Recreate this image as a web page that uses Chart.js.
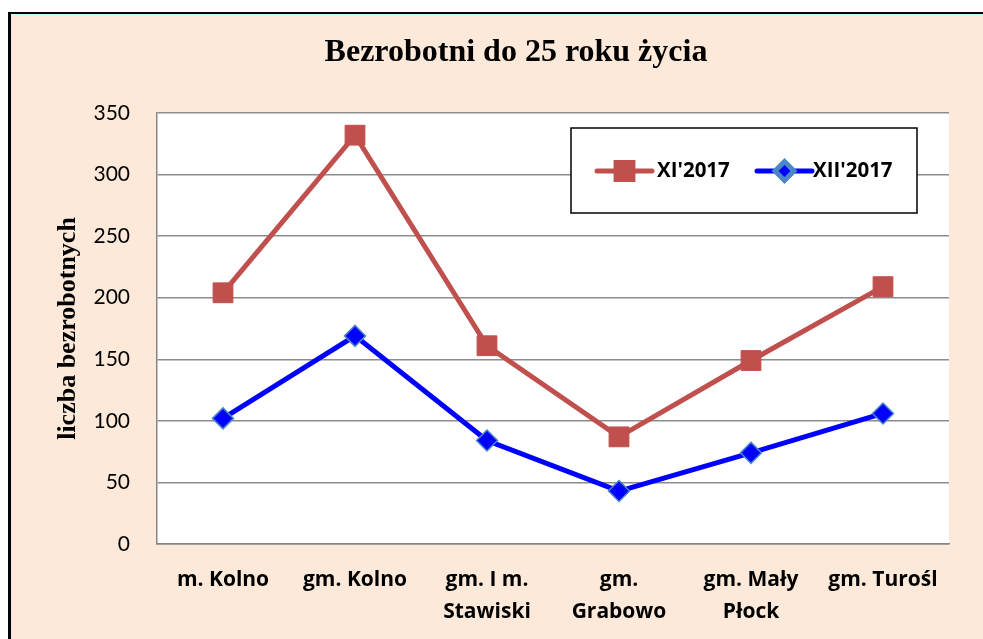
<!DOCTYPE html>
<html lang="pl">
<head>
    <meta charset="UTF-8">
    <title>Bezrobotni do 25 roku życia</title>
    <script src="https://cdn.jsdelivr.net/npm/chart.js"></script>
    <style>
        html, body { margin: 0; padding: 0; background: #fff; overflow: hidden; }
        #frame {
            position: absolute; left: 8px; top: 12px;
            width: 1010px; height: 640px;
            border-left: 3px solid #000; border-top: 2px solid #000;
            box-shadow: inset 1px 1px 0 #bff;
            background: #FDE9D9;
        }
        canvas { display: block; }
    </style>
</head>
<body>
    <div id="frame"><canvas id="chartCanvas" width="1010" height="625"></canvas></div>

    <script>
        const chartTitle = 'Bezrobotni do 25 roku życia';
        const yAxisTitle = 'liczba bezrobotnych';
        const categories = ['m. Kolno', 'gm. Kolno', ['gm. I m.', 'Stawiski'], ['gm.', 'Grabowo'], ['gm. Mały', 'Płock'], 'gm. Turośl'];
        const seriesNames = ["XI'2017", "XII'2017"];
        const xi2017 = [204, 332, 161, 87, 149, 209];
        const xii2017 = [102, 169, 84, 43, 74, 106];
        const yMin = 0, yMax = 350, yStep = 50;

        const tickFont = 'Lato, "Open Sans", sans-serif';
        const boldFont = '"Open Sans", Lato, sans-serif';
        const serifFont = '"Liberation Serif", "DejaVu Serif", serif';

        // white plot area
        const plotBg = {
            id: 'plotBg',
            beforeDraw(chart) {
                const { ctx, chartArea: a } = chart;
                ctx.save();
                ctx.fillStyle = '#fff';
                ctx.fillRect(a.left, a.top, a.right - a.left, a.bottom - a.top);
                ctx.restore();
            }
        };

        // title centred on the whole (cropped) chart frame
        const frameTitle = {
            id: 'frameTitle',
            afterDraw(chart) {
                const ctx = chart.ctx;
                ctx.save();
                ctx.fillStyle = '#000';
                ctx.font = 'bold 32px ' + serifFont;
                ctx.textAlign = 'center';
                ctx.textBaseline = 'middle';
                ctx.fillText(chartTitle, chart.width / 2, 39);
                ctx.restore();
            }
        };

        // legend box inside the plot, like in Excel
        const boxLegend = {
            id: 'boxLegend',
            afterDraw(chart) {
                const { ctx, chartArea: a } = chart;
                const bx = a.left + 414, by = a.top + 15, bw = 346, bh = 85;
                ctx.save();
                ctx.fillStyle = '#fff';
                ctx.fillRect(bx, by, bw, bh);
                ctx.strokeStyle = '#000';
                ctx.lineWidth = 1.5;
                ctx.strokeRect(bx, by, bw, bh);
                const items = [{ x: bx + 26, tx: bx + 86 }, { x: bx + 186, tx: bx + 242 }];
                const cy = by + 43;
                chart.data.datasets.forEach((ds, i) => {
                    const it = items[i];
                    ctx.strokeStyle = ds.borderColor;
                    ctx.lineWidth = ds.borderWidth;
                    ctx.lineCap = 'round';
                    ctx.beginPath();
                    ctx.moveTo(it.x, cy);
                    ctx.lineTo(it.x + 55, cy);
                    ctx.stroke();
                    ctx.fillStyle = ds.pointBackgroundColor;
                    ctx.strokeStyle = ds.pointBorderColor;
                    Chart.helpers.drawPoint(ctx, {
                        pointStyle: ds.pointStyle,
                        radius: ds.pointRadius * (i === 0 ? 0.85 : 0.9),
                        rotation: 0,
                        borderWidth: ds.pointBorderWidth
                    }, it.x + 27.5, cy);
                    ctx.fillStyle = '#000';
                    ctx.font = 'bold 20.5px ' + boldFont;
                    ctx.textBaseline = 'middle';
                    ctx.textAlign = 'left';
                    ctx.fillText(ds.label, it.tx, cy);
                });
                ctx.restore();
            }
        };

        const ctx = document.getElementById('chartCanvas').getContext('2d');
        const chart = new Chart(ctx, {
            type: 'line',
            data: {
                labels: categories,
                datasets: [
                    {
                        label: seriesNames[0], data: xi2017,
                        borderColor: '#C0504D', borderWidth: 5,
                        pointStyle: 'rect', pointRadius: 14,
                        pointBackgroundColor: '#C0504D', pointBorderColor: '#C0504D', pointBorderWidth: 1,
                        tension: 0, fill: false
                    },
                    {
                        label: seriesNames[1], data: xii2017,
                        borderColor: '#0000FF', borderWidth: 5,
                        pointStyle: 'rectRot', pointRadius: 10.5,
                        pointBackgroundColor: '#0000FF', pointBorderColor: '#4A86C8', pointBorderWidth: 1.5,
                        tension: 0, fill: false
                    }
                ]
            },
            options: {
                responsive: false,
                animation: false,
                layout: { padding: { left: 0, right: 72, top: 99, bottom: 0 } },
                plugins: {
                    legend: { display: false },
                    tooltip: { enabled: false },
                    title: { display: false }
                },
                scales: {
                    x: {
                        offset: true,
                        grid: { display: false, drawTicks: false },
                        border: { display: true, color: '#868686', width: 1.5 },
                        ticks: {
                            color: '#000', padding: 20, maxRotation: 0, autoSkip: false,
                            font: { family: boldFont, size: 21, weight: 'bold', lineHeight: 1.52 }
                        },
                        afterFit(scale) { scale.height = 95; }
                    },
                    y: {
                        min: yMin, max: yMax,
                        grid: { color: '#8c8c8c', lineWidth: 1.5, drawTicks: false },
                        border: { display: true, color: '#868686', width: 1.5 },
                        ticks: {
                            stepSize: yStep, color: '#000', padding: 27,
                            font: { family: tickFont, size: 21 }
                        },
                        title: {
                            display: true,
                            text: yAxisTitle,
                            color: '#000',
                            font: { family: serifFont, size: 26, weight: 'bold', lineHeight: 1.2 },
                            padding: { top: 42, bottom: 0 }
                        },
                        afterFit(scale) { scale.width = 146; }
                    }
                }
            },
            plugins: [plotBg, boxLegend, frameTitle]
        });
    </script>
</body>
</html>
